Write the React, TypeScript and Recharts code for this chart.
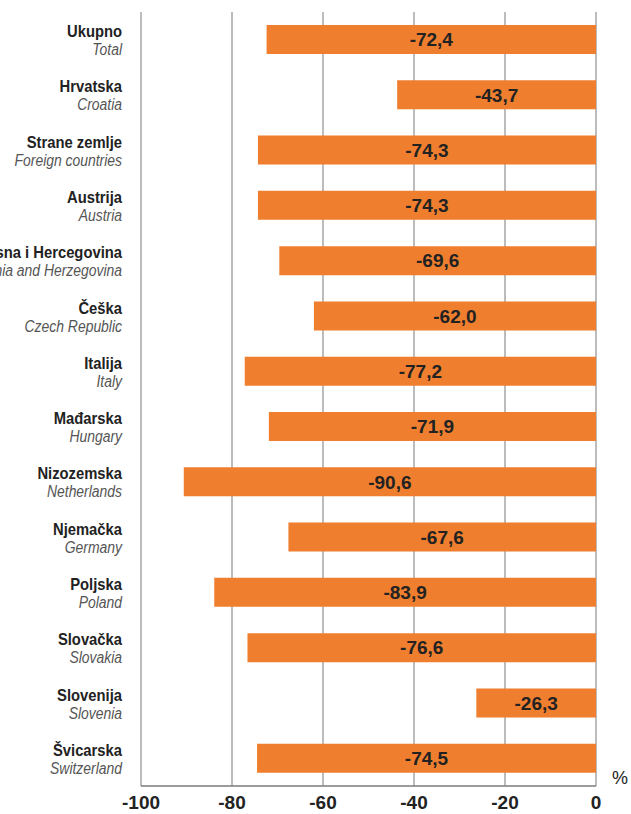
import { Bar, BarChart, CartesianGrid, LabelList, XAxis, YAxis } from "recharts"

const countries = [
  "Ukupno",
  "Hrvatska",
  "Strane zemlje",
  "Austrija",
  "Bosna i Hercegovina",
  "Češka",
  "Italija",
  "Mađarska",
  "Nizozemska",
  "Njemačka",
  "Poljska",
  "Slovačka",
  "Slovenija",
  "Švicarska",
]

const countriesEn = [
  "Total",
  "Croatia",
  "Foreign countries",
  "Austria",
  "Bosnia and Herzegovina",
  "Czech Republic",
  "Italy",
  "Hungary",
  "Netherlands",
  "Germany",
  "Poland",
  "Slovakia",
  "Slovenia",
  "Switzerland",
]

const change = [-72.4, -43.7, -74.3, -74.3, -69.6, -62.0, -77.2, -71.9, -90.6, -67.6, -83.9, -76.6, -26.3, -74.5]

const xTicks = [-100, -80, -60, -40, -20, 0]

const data = countries.map((name, i) => ({ name, en: countriesEn[i], value: change[i] }))

const FONT = "'Liberation Sans', Arial, Helvetica, sans-serif"

const fmt = (v: number) => v.toFixed(1).replace(".", ",")

function CountryTick(props: any) {
  const { x, y, payload } = props
  const en = countriesEn[countries.indexOf(payload.value)]
  const tx = x - 19
  return (
    <g>
      <text
        transform={`translate(${tx},${y - 2.5}) scale(0.87,1)`}
        textAnchor="end"
        fontFamily={FONT}
        fontSize={17}
        fontWeight="bold"
        fill="#222"
      >
        {payload.value}
      </text>
      <text
        transform={`translate(${tx},${y + 15.5}) scale(0.87,1)`}
        textAnchor="end"
        fontFamily={FONT}
        fontSize={16}
        fontStyle="italic"
        fill="#555"
      >
        {en}
      </text>
    </g>
  )
}

function PercentLabel(props: any) {
  const { viewBox } = props
  return (
    <text x={viewBox.x + viewBox.width + 24} y={viewBox.y - 2} textAnchor="middle" fontFamily={FONT} fontSize={18} fill="#222">
      %
    </text>
  )
}

export default function App() {
  return (
    <div style={{ position: "absolute", left: 0, top: 0, background: "#fff" }}>
      <BarChart
        width={631}
        height={814}
        data={data}
        layout="vertical"
        margin={{ top: 12, right: 35, left: 0, bottom: 0 }}
      >
        <CartesianGrid horizontal={false} vertical stroke="#8f8f8f" strokeWidth={1.2} />
        <XAxis
          type="number"
          domain={[-100, 0]}
          ticks={xTicks}
          height={28}
          axisLine={{ stroke: "#7a7a7a", strokeWidth: 1.5 }}
          tickLine={false}
          tickSize={0}
          tickMargin={10}
          tick={{ fontFamily: FONT, fontSize: 19, fontWeight: "bold", fill: "#222" }}
          label={<PercentLabel />}
        />
        <YAxis
          type="category"
          dataKey="name"
          width={141}
          axisLine={false}
          tickLine={false}
          tickSize={0}
          tickMargin={0}
          tick={<CountryTick />}
          interval={0}
        />
        <Bar dataKey="value" fill="#EF7F2F" barSize={29} isAnimationActive={false}>
          <LabelList
            dataKey="value"
            position="center"
            formatter={(v: any) => fmt(Number(v))}
            style={{ fontFamily: FONT, fontSize: 19, fontWeight: "bold", fill: "#222" }}
          />
        </Bar>
      </BarChart>
    </div>
  )
}
